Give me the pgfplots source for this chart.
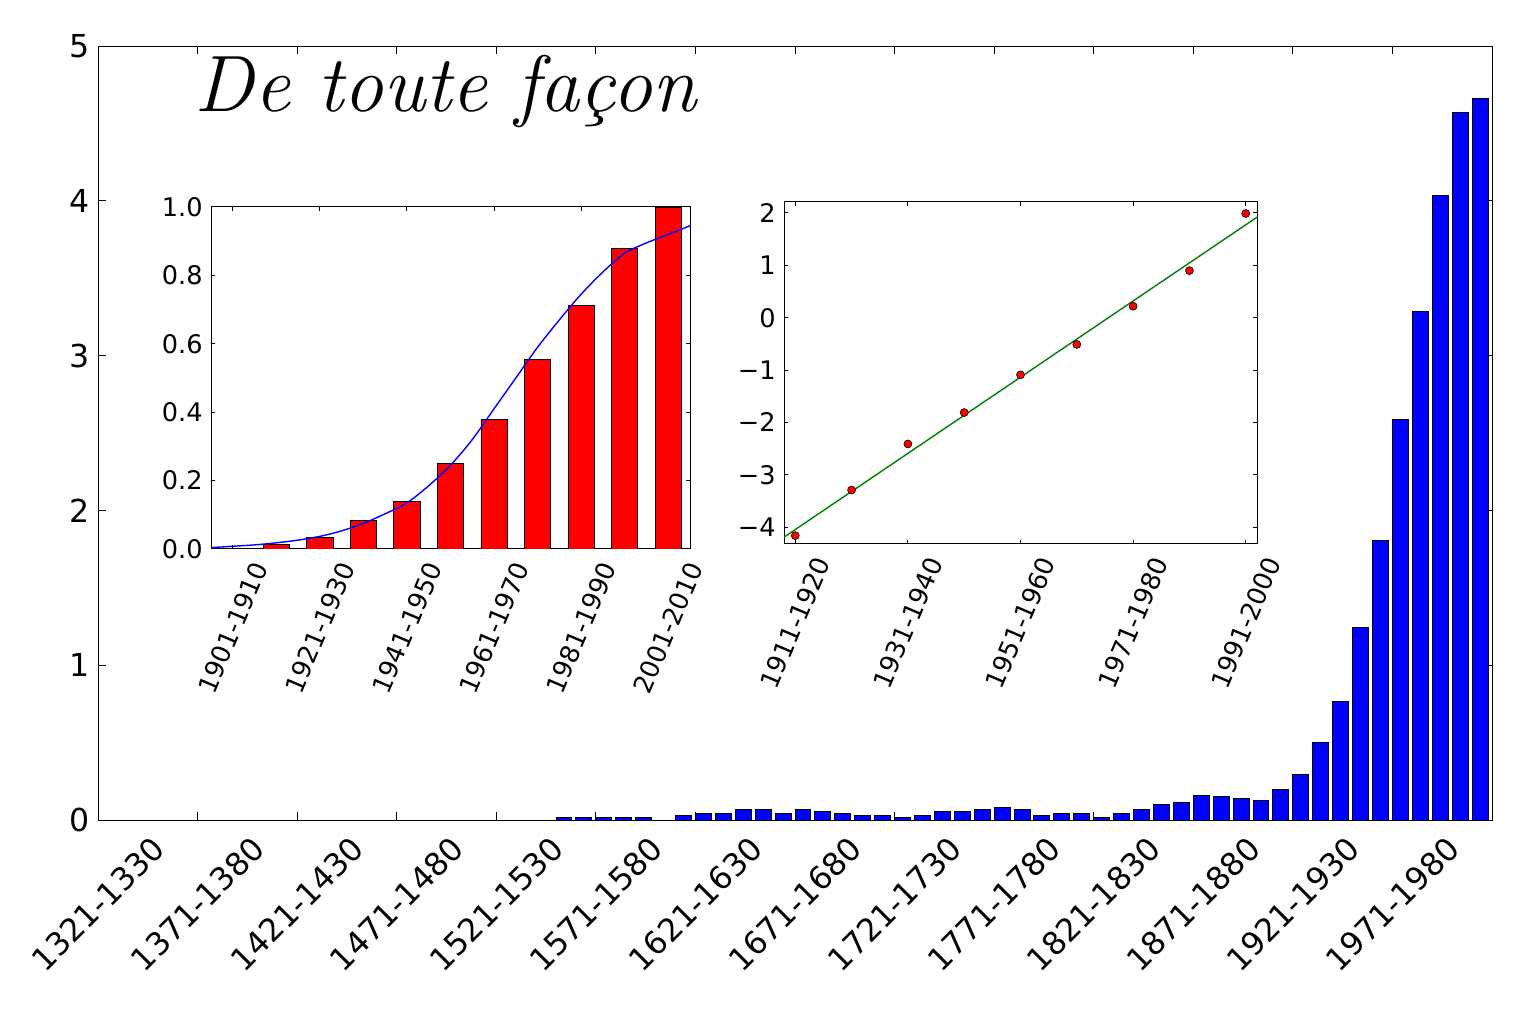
\documentclass[border=0pt]{standalone}
\usepackage{fontspec}
\setmainfont{DejaVu Sans}
\newfontfamily\lmrm{Latin Modern Roman}
\usepackage{pgfplots}
\pgfplotsset{compat=1.18}
\definecolor{mplgreen}{rgb}{0,0.5,0}
\begin{document}
\begin{tikzpicture}
\begin{axis}[name=main, at={(0pt,0pt)}, anchor=south west,
  width=697pt, height=387pt, scale only axis,
  xmin=0, xmax=70, ymin=0, ymax=5,
  tick align=inside, major tick length=4pt,
  tick style={black, line width=0.5pt},
  axis line style={line width=0.5pt},
  xtick={0,5,10,15,20,25,30,35,40,45,50,55,60,65},
  xticklabels={1321-1330,1371-1380,1421-1430,1471-1480,1521-1530,1571-1580,1621-1630,1671-1680,1721-1730,1771-1780,1821-1830,1871-1880,1921-1930,1971-1980},
  ytick={0,1,2,3,4,5}, yticklabels={0,1,2,3,4,5},
  x tick label style={font=\fontsize{15.8}{18}\selectfont, yshift=-42pt, rotate=45, anchor=center},
  y tick label style={font=\fontsize{15.8}{18}\selectfont, anchor=east, inner sep=0pt, xshift=-4pt},
  clip=false]
\addplot[ybar, bar width=0.8, bar shift=0.4, fill=blue, draw=black, line width=0.5pt] coordinates {
(0,0) (1,0) (2,0) (3,0) (4,0) (5,0) (6,0) (7,0) (8,0) (9,0)
(10,0) (11,0) (12,0) (13,0) (14,0) (15,0) (16,0) (17,0) (18,0) (19,0)
(20,0) (21,0) (22,0) (23,0.017) (24,0.017) (25,0.017) (26,0.017) (27,0.017) (28,0) (29,0.026)
(30,0.039) (31,0.045) (32,0.065) (33,0.071) (34,0.045) (35,0.065) (36,0.058) (37,0.039) (38,0.032) (39,0.032)
(40,0.019) (41,0.032) (42,0.058) (43,0.058) (44,0.071) (45,0.078) (46,0.065) (47,0.032) (48,0.045) (49,0.039)
(50,0.019) (51,0.045) (52,0.071) (53,0.097) (54,0.116) (55,0.161) (56,0.155) (57,0.136) (58,0.129) (59,0.194)
(60,0.291) (61,0.498) (62,0.764) (63,1.246) (64,1.804) (65,2.590) (66,3.288) (67,4.036) (68,4.569) (69,4.660)
};
\node[anchor=base west, inner sep=0pt, font=\lmrm\itshape\fontsize{40}{42}\selectfont] at (axis cs:4.85,4.58) {De toute façon};
\end{axis}

\begin{axis}[at={(56.5pt,135.5pt)}, anchor=south west,
  width=239.5pt, height=171pt, scale only axis,
  axis background/.style={fill=white},
  xmin=-0.5, xmax=10.5, ymin=0, ymax=1,
  tick align=inside, major tick length=2.2pt,
  tick style={black, line width=0.5pt},
  axis line style={line width=0.5pt},
  xtick={0,2,4,6,8,10},
  xticklabels={1901-1910,1921-1930,1941-1950,1961-1970,1981-1990,2001-2010},
  ytick={0,0.2,0.4,0.6,0.8,1.0}, yticklabels={0.0,0.2,0.4,0.6,0.8,1.0},
  x tick label style={font=\fontsize{12.8}{15}\selectfont, yshift=-39.5pt, rotate=67, anchor=center},
  y tick label style={font=\fontsize{12.8}{15}\selectfont, anchor=east, inner sep=0pt, xshift=-4pt}]
\addplot[ybar, bar width=0.6, fill=red, draw=black, line width=0.4pt] coordinates {
(0,0) (1,0.0146) (2,0.035) (3,0.084) (4,0.140) (5,0.251) (6,0.378) (7,0.554) (8,0.711) (9,0.879) (10,1.0)
};
\addplot[blue, line width=0.7pt, smooth] coordinates {
(-0.5,0.004) (0,0.008) (0.5,0.012) (1,0.018) (1.5,0.026) (2,0.037) (2.5,0.053) (3,0.075) (3.5,0.103)
(4,0.135) (4.5,0.185) (5,0.245) (5.5,0.32) (6,0.41) (6.5,0.50) (7,0.59) (7.5,0.67) (8,0.745)
(8.5,0.81) (9,0.865) (9.5,0.895) (10,0.92) (10.5,0.945)
};
\end{axis}

\begin{axis}[at={(343pt,138pt)}, anchor=south west,
  width=236.5pt, height=171pt, scale only axis,
  axis background/.style={fill=white},
  xmin=-0.2, xmax=8.2, ymin=-4.32, ymax=2.21,
  tick align=inside, major tick length=2.2pt,
  tick style={black, line width=0.5pt},
  axis line style={line width=0.5pt},
  xtick={0,2,4,6,8},
  xticklabels={1911-1920,1931-1940,1951-1960,1971-1980,1991-2000},
  ytick={-4,-3,-2,-1,0,1,2}, yticklabels={−4,−3,−2,−1,0,1,2},
  x tick label style={font=\fontsize{12.8}{15}\selectfont, yshift=-39.5pt, rotate=67, anchor=center},
  y tick label style={font=\fontsize{12.8}{15}\selectfont, anchor=east, inner sep=0pt, xshift=-4pt}]
\addplot[mplgreen, line width=0.7pt] coordinates {(-0.2,-4.19) (8.2,1.92)};
\addplot[only marks, mark=*, mark size=2pt, mark options={fill=red, draw=black, line width=0.3pt}] coordinates {
(0,-4.16) (1,-3.29) (2,-2.41) (3,-1.81) (4,-1.09) (5,-0.51) (6,0.22) (7,0.90) (8,1.99)
};
\end{axis}
\pgfresetboundingbox
\path[use as bounding box] (-49pt,-95.5pt) rectangle (713pt,410pt);
\end{tikzpicture}
\end{document}
